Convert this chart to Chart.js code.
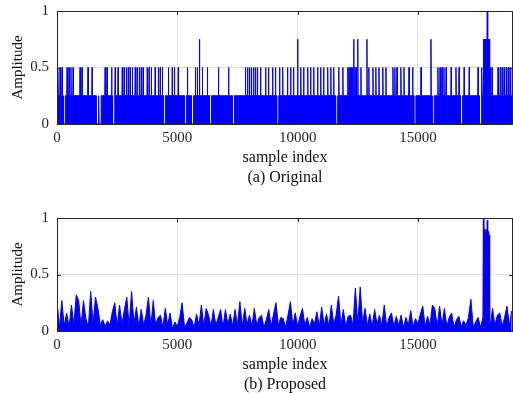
<!DOCTYPE html>
<html>
<head>
<meta charset="utf-8">
<script src="https://cdn.jsdelivr.net/npm/chart.js@4.4.0/dist/chart.umd.min.js"></script>
<style>
    html, body { margin: 0; padding: 0; background: #fff; overflow: hidden; width: 513px; height: 393px; }
    .panel { position: absolute; left: 0; width: 513px; height: 195px; }
</style>
</head>
<body>
<div class="panel" style="top:0"><canvas id="orig" width="513" height="195"></canvas></div>
<div class="panel" style="top:207px"><canvas id="prop" width="513" height="195"></canvas></div>
<script>
const xTicks = [0, 5000, 10000, 15000];
const yTicks = [0, 0.5, 1];
const xMax = 18950;

// (a) Original: quantised amplitude, dense band at 0.25 with spikes
const origBase = 0.25;
const origHalf = [40, 130, 210, 420, 500, 580, 670, 960, 1040, 1290, 1460, 2000, 2080, 2270, 2420, 2540,
    2710, 2790, 2880, 2960, 3040, 3130, 3250, 3330, 3420, 3500, 3580, 3750, 3830, 3920, 4080, 4210,
    4290, 4380, 4630, 4790, 4880, 5040, 5420, 5750, 5830, 6040, 6250, 6710, 7130, 7830, 7920, 8000,
    8080, 8170, 8250, 8330, 8460, 8670, 8790, 8960, 9080, 9250, 9380, 9580, 9710, 9830, 10130, 10250,
    10420, 10540, 10670, 10830, 10960, 11080, 11250, 11380, 11500, 11710, 11880, 12080, 12130, 12180,
    12230, 12280, 12380, 12430, 12630, 12960, 13130, 13250, 13380, 13540, 13670, 13960, 14040, 14130,
    14290, 14420, 14630, 14780, 15130, 15830, 15920, 16000, 16080, 16170, 16380, 16580, 16710, 16920,
    17130, 17500, 17660, 18000, 18080, 18330, 18420, 18500, 18580, 18670, 18750, 18830, 18920];
const origThreeQ = [5920, 10000, 12330, 12500, 12880, 15540, 17720, 17760, 17800, 17840, 17920, 17960];
const origFull = [17880];
const origZero = [300, 1670, 1790, 2350, 4460, 5330, 5630, 6380, 7330, 9170, 11620, 14870, 15630, 16810, 17590];

// (b) Proposed: amplitude read every 100 samples, plus the burst near 17800
const propStep = 100;
const propValues = [
    0.27, 0.03, 0.27, 0.04, 0.16, 0.03, 0.23, 0.05, 0.32, 0.27,
    0.04, 0.27, 0.11, 0.03, 0.35, 0.06, 0.30, 0.20, 0.05, 0.10,
    0.04, 0.09, 0.05, 0.17, 0.25, 0.04, 0.23, 0.06, 0.19, 0.30,
    0.04, 0.35, 0.06, 0.21, 0.04, 0.19, 0.05, 0.14, 0.30, 0.04,
    0.27, 0.05, 0.12, 0.14, 0.03, 0.20, 0.05, 0.16, 0.02, 0.08,
    0.04, 0.12, 0.25, 0.03, 0.07, 0.12, 0.10, 0.03, 0.15, 0.05,
    0.23, 0.04, 0.20, 0.14, 0.04, 0.19, 0.05, 0.12, 0.19, 0.03,
    0.19, 0.06, 0.15, 0.04, 0.19, 0.05, 0.26, 0.04, 0.20, 0.06,
    0.14, 0.04, 0.20, 0.05, 0.12, 0.14, 0.03, 0.10, 0.19, 0.04,
    0.15, 0.25, 0.05, 0.12, 0.11, 0.03, 0.14, 0.26, 0.05, 0.16,
    0.04, 0.13, 0.20, 0.05, 0.12, 0.03, 0.11, 0.06, 0.17, 0.04,
    0.21, 0.05, 0.15, 0.04, 0.23, 0.06, 0.14, 0.31, 0.05, 0.19,
    0.04, 0.13, 0.14, 0.05, 0.38, 0.06, 0.39, 0.07, 0.20, 0.05,
    0.15, 0.04, 0.19, 0.06, 0.14, 0.05, 0.23, 0.04, 0.12, 0.16,
    0.04, 0.13, 0.05, 0.14, 0.03, 0.12, 0.05, 0.18, 0.04, 0.11,
    0.06, 0.15, 0.22, 0.04, 0.13, 0.05, 0.23, 0.20, 0.04, 0.22,
    0.05, 0.20, 0.04, 0.12, 0.16, 0.03, 0.10, 0.13, 0.04, 0.09,
    0.05, 0.12, 0.28, 0.03, 0.08, 0.12, 0.03, 0.12, 0.88, 0.12,
    0.04, 0.20, 0.05, 0.14, 0.16, 0.04, 0.12, 0.22, 0.05, 0.18];
const burstX = [17700, 17720, 17740, 17760, 17780, 17800, 17820, 17840, 17860, 17880, 17900, 17920, 17940, 17960, 17980];
const burstY = [0.12, 1.0, 0.14, 0.9, 0.16, 0.88, 0.18, 0.9, 0.15, 0.98, 0.13, 0.88, 0.12, 0.85, 0.10];

const BLUE = '#0000ff';
Chart.defaults.font.family = '"Liberation Serif", "Times New Roman", serif';

function buildOriginal() {
    const ev = [];
    origHalf.forEach(x => ev.push({ x, y: 0.5 }));
    origThreeQ.forEach(x => ev.push({ x, y: 0.75 }));
    origFull.forEach(x => ev.push({ x, y: 1 }));
    origZero.forEach(x => ev.push({ x, y: 0, flat: true }));
    ev.sort((a, b) => a.x - b.x);

    const pts = [{ x: 0, y: origBase }];
    ev.forEach(e => {
        if (e.flat) {
            pts.push({ x: e.x - 45, y: origBase }, { x: e.x - 40, y: 0 }, { x: e.x + 40, y: 0 }, { x: e.x + 45, y: origBase });
        } else {
            pts.push({ x: e.x - 12, y: origBase }, { x: e.x, y: e.y }, { x: e.x + 12, y: origBase });
        }
    });
    pts.push({ x: xMax, y: origBase });
    return pts;
}

function buildProposed() {
    const lo = burstX[0], hi = burstX[burstX.length - 1];
    const pts = [];
    propValues.forEach((v, i) => {
        const x = i * propStep;
        if (x >= lo && x <= hi) return;
        pts.push({ x, y: v });
    });
    burstX.forEach((x, i) => pts.push({ x, y: burstY[i] }));
    pts.sort((a, b) => a.x - b.x);
    return pts;
}

// MATLAB-style box with inward ticks, drawn over the data
const boxPlugin = {
    id: 'box',
    afterDatasetsDraw(chart) {
        const { ctx, chartArea: a, scales: { x, y } } = chart;
        ctx.save();
        ctx.strokeStyle = '#262626';
        ctx.lineWidth = 1;
        ctx.strokeRect(a.left + 0.5, a.top + 0.5, a.right - a.left - 1, a.bottom - a.top);
        ctx.beginPath();
        xTicks.forEach(v => {
            const px = Math.round(x.getPixelForValue(v)) + 0.5;
            ctx.moveTo(px, a.bottom); ctx.lineTo(px, a.bottom - 4);
            ctx.moveTo(px, a.top); ctx.lineTo(px, a.top + 4);
        });
        yTicks.forEach(v => {
            const py = Math.round(y.getPixelForValue(v)) + 0.5;
            ctx.moveTo(a.left, py); ctx.lineTo(a.left + 4, py);
            ctx.moveTo(a.right, py); ctx.lineTo(a.right - 4, py);
        });
        ctx.stroke();
        ctx.restore();
    }
};

function makeChart(id, points, caption) {
    return new Chart(document.getElementById(id), {
        type: 'line',
        data: {
            datasets: [{
                data: points,
                borderColor: BLUE,
                backgroundColor: BLUE,
                borderWidth: 1,
                pointRadius: 0,
                fill: 'origin',
                tension: 0
            }]
        },
        options: {
            responsive: false,
            animation: false,
            parsing: false,
            layout: { padding: { top: 11, left: 0, right: 0, bottom: 0 } },
            plugins: { legend: { display: false }, tooltip: { enabled: false } },
            scales: {
                x: {
                    type: 'linear',
                    min: 0,
                    max: xMax,
                    afterBuildTicks: s => { s.ticks = xTicks.map(v => ({ value: v })); },
                    afterFit: s => { s.height = 71; },
                    grid: { color: '#e0e0e0', drawTicks: false },
                    border: { display: false },
                    ticks: { color: '#262626', font: { size: 15 }, padding: 5, maxRotation: 0, callback: v => String(v) },
                    title: {
                        display: true,
                        text: ['sample index', caption],
                        color: '#111',
                        font: { size: 16, lineHeight: 1.25 },
                        padding: { top: 0, bottom: 7 }
                    }
                },
                y: {
                    min: 0,
                    max: 1,
                    afterBuildTicks: s => { s.ticks = yTicks.map(v => ({ value: v })); },
                    afterFit: s => { s.width = 57; s.paddingTop = 0; s.paddingBottom = 0; },
                    grid: { color: '#e0e0e0', drawTicks: false },
                    border: { display: false },
                    ticks: { color: '#262626', font: { size: 15 }, padding: 8, callback: v => String(v) },
                    title: {
                        display: true,
                        text: 'Amplitude',
                        color: '#111',
                        font: { size: 15 },
                        padding: { top: 9, bottom: 0 }
                    }
                }
            }
        },
        plugins: [boxPlugin]
    });
}

makeChart('orig', buildOriginal(), '(a) Original');
makeChart('prop', buildProposed(), '(b) Proposed');
</script>
</body>
</html>
